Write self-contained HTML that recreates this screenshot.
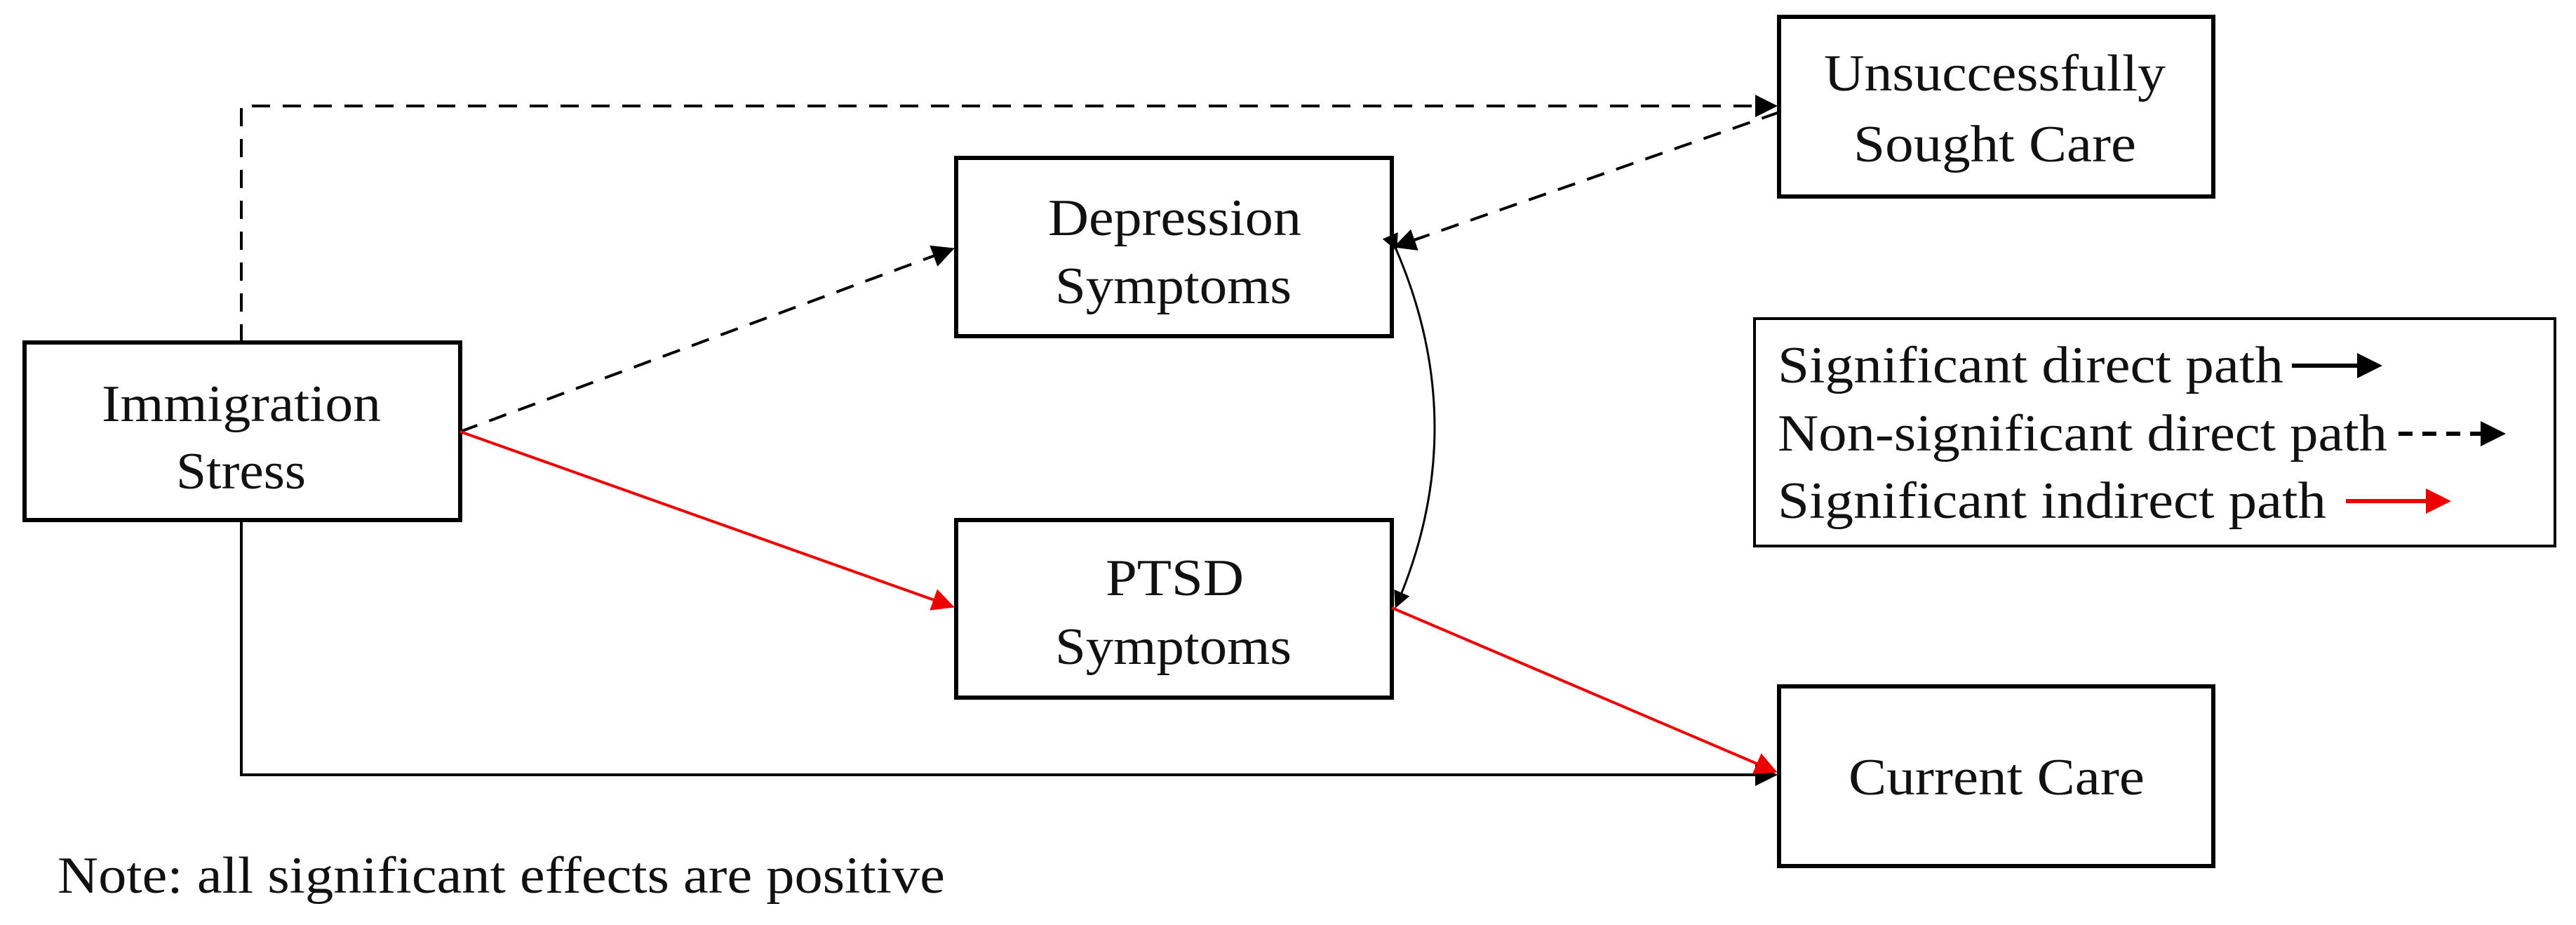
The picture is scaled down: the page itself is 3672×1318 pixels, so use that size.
<!DOCTYPE html>
<html><head><meta charset="utf-8"><style>html,body{margin:0;padding:0;background:#fff}svg{display:block}</style></head><body>
<svg width="3672" height="1318" viewBox="0 0 3672 1318" xmlns="http://www.w3.org/2000/svg" font-family="'Liberation Serif', serif" font-size="74" fill="#111">
<defs>
<marker id="ar" markerWidth="8" markerHeight="8" refX="7" refY="4" orient="auto" viewBox="0 0 8 8"><path d="M0,0 L8,4 L0,8 z" fill="#e00"/></marker>
<marker id="ak" markerWidth="8" markerHeight="8" refX="7" refY="4" orient="auto" viewBox="0 0 8 8"><path d="M0,0 L8,4 L0,8 z" fill="#000"/></marker>
<marker id="ak2" markerWidth="8" markerHeight="8" refX="7" refY="4" orient="auto" viewBox="0 0 8 8"><path d="M0,0 L8,4 L0,8 z" fill="#000"/></marker>
<marker id="aks" markerWidth="6" markerHeight="6" refX="5" refY="3" orient="auto" viewBox="0 0 6 6"><path d="M0,0 L6,3 L0,6 z" fill="#000"/></marker>
<marker id="ars" markerWidth="6" markerHeight="6" refX="5" refY="3" orient="auto" viewBox="0 0 6 6"><path d="M0,0 L6,3 L0,6 z" fill="#e00"/></marker>
</defs>
<g fill="none" stroke="#000" stroke-width="6">
<rect x="35" y="488" width="621" height="253"/>
<rect x="1363" y="225" width="621" height="254"/>
<rect x="1363" y="741" width="621" height="253"/>
<rect x="2536" y="24" width="619" height="256"/>
<rect x="2536" y="978" width="619" height="256"/>
<rect x="2501" y="454" width="1141" height="324" stroke-width="4"/>
</g>
<g fill="none" stroke-width="4">
<path d="M344 488 V151 H2530" stroke="#000" stroke-dasharray="26,18" marker-end="url(#ak)"/>
<path d="M344 741 V1104 H2530" stroke="#000" marker-end="url(#ak)"/>
<path d="M656 615 L1357 355" stroke="#000" stroke-dasharray="26,18" marker-end="url(#ak)"/>
<path d="M656 615 L1357 864" stroke="#e00" marker-end="url(#ar)"/>
<path d="M2536 160 L1990 351" stroke="#000" stroke-dasharray="26,18" marker-end="url(#ak)"/>
<path d="M1984 866 L2530 1099" stroke="#e00" marker-end="url(#ar)"/>
<path d="M1990 355 Q2100 610 1990 864" stroke="#000" stroke-width="3" marker-start="url(#ak2)" marker-end="url(#ak2)"/>
<path d="M3267 521 H3390" stroke="#000" stroke-width="6" marker-end="url(#aks)"/>
<path d="M3419 618 H3566" stroke="#000" stroke-width="6" stroke-dasharray="20,14" marker-end="url(#aks)"/>
<path d="M3344 714 H3488" stroke="#e00" stroke-width="6" marker-end="url(#ars)"/>
</g>
<g stroke="none">
<text x="145" y="600" textLength="398" lengthAdjust="spacingAndGlyphs">Immigration</text>
<text x="251" y="696" textLength="185" lengthAdjust="spacingAndGlyphs">Stress</text>
<text x="1494" y="335" textLength="361" lengthAdjust="spacingAndGlyphs">Depression</text>
<text x="1504" y="432" textLength="337" lengthAdjust="spacingAndGlyphs">Symptoms</text>
<text x="1576" y="848" textLength="197" lengthAdjust="spacingAndGlyphs">PTSD</text>
<text x="1504" y="946" textLength="337" lengthAdjust="spacingAndGlyphs">Symptoms</text>
<text x="2600" y="129" textLength="487" lengthAdjust="spacingAndGlyphs">Unsuccessfully</text>
<text x="2642" y="230" textLength="403" lengthAdjust="spacingAndGlyphs">Sought Care</text>
<text x="2635" y="1132" textLength="422" lengthAdjust="spacingAndGlyphs">Current Care</text>
<text x="2534" y="545" textLength="721" lengthAdjust="spacingAndGlyphs">Significant direct path</text>
<text x="2534" y="642" textLength="869" lengthAdjust="spacingAndGlyphs">Non-significant direct path</text>
<text x="2534" y="738" textLength="782" lengthAdjust="spacingAndGlyphs">Significant indirect path</text>
<text x="82" y="1272" textLength="1265" lengthAdjust="spacingAndGlyphs">Note: all significant effects are positive</text>
</g>
</svg>
</body></html>
